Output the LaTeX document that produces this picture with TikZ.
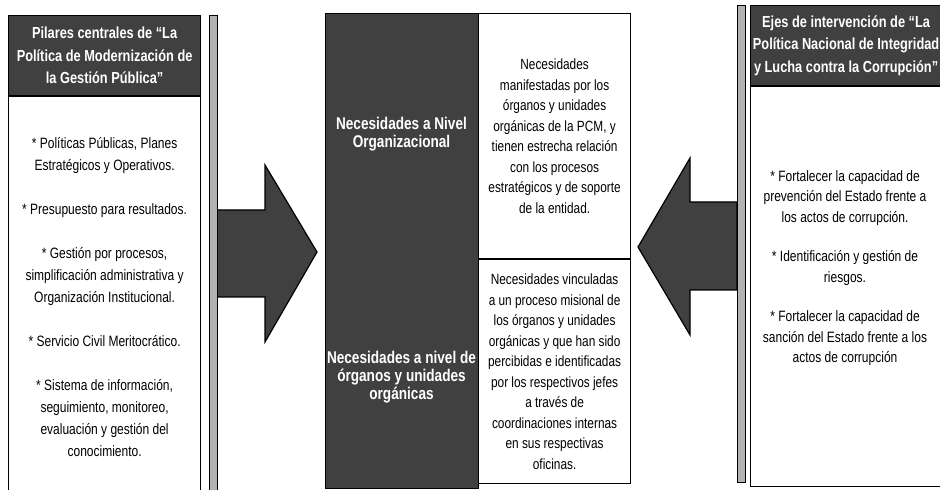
\documentclass[tikz,border=0pt]{standalone}
\usepackage{fontspec}
\setmainfont{Liberation Sans}[FakeStretch=0.8]
\usetikzlibrary{positioning}
\tikzset{%
  darkbox/.style = {rectangle,draw,fill=black!75,text=white,align=center,
        inner sep=0pt,font=\bfseries\fontsize{16}{22.5}\selectfont},
  darktext/.style = {text=white,align=center,inner sep=0pt,
        font=\bfseries\fontsize{17}{18}\selectfont},
  whitebox/.style = {rectangle,draw,fill=white,align=center,inner sep=0pt},
  stripbox/.style = {rectangle,draw,fill=black!30,minimum width=8pt,inner sep=0pt},
  bodytext/.style = {align=center,font=\fontsize{15}{22}\selectfont},
  sidetext/.style = {align=center,font=\fontsize{15}{20.5}\selectfont},
  midtext/.style = {align=center,font=\fontsize{14.8}{20.5}\selectfont},
  blockarrow/.style = {fill=black!75,draw=black}
}

\begin{document}
\begin{tikzpicture}[x=1pt,y=1pt,line width=1.2pt]
\useasboundingbox (0,0) rectangle (940,490);

% left column
\node[darkbox,minimum width=192pt,minimum height=80pt,anchor=north west] (lhead) at (8,475)
  {Pilares centrales de “La\\Política de Modernización de\\la Gestión Pública”};
\node[whitebox,bodytext,minimum width=192pt,minimum height=400pt,below=0pt of lhead] (lbody)
  {* Políticas Públicas, Planes\\Estratégicos y Operativos.\\[22pt]
   * Presupuesto para resultados.\\[22pt]
   * Gestión por procesos,\\simplificación administrativa y\\Organización Institucional.\\[22pt]
   * Servicio Civil Meritocrático.\\[22pt]
   * Sistema de información,\\seguimiento, monitoreo,\\evaluación y gestión del\\conocimiento.};
\filldraw[blockarrow] (217,280) -- (265,280) -- (265,325) -- (317,238)
  -- (265,148) -- (265,193) -- (217,193) -- cycle;
\node[stripbox,minimum height=480pt,anchor=north west] (lstrip) at (209,475) {};

% middle column
\node[darkbox,minimum width=153pt,minimum height=475pt,anchor=north west] (mdark) at (325,477) {};
\node[darktext] (orgnivel) at (401.5,356) {Necesidades a Nivel\\Organizacional};
\node[darktext] (orgunid) at (401.5,113) {Necesidades a nivel de\\órganos y unidades\\orgánicas};
\node[whitebox,midtext,minimum width=152pt,minimum height=245pt,anchor=north west] (mneed) at (478,477)
  {Necesidades\\manifestadas por los\\órganos y unidades\\orgánicas de la PCM, y\\tienen estrecha relación\\con los procesos\\estratégicos y de soporte\\de la entidad.};
\node[whitebox,midtext,minimum width=152pt,minimum height=224pt,below=0pt of mneed] (mlink)
  {Necesidades vinculadas\\a un proceso misional de\\los órganos y unidades\\orgánicas y que han sido\\percibidas e identificadas\\por los respectivos jefes\\a través de\\coordinaciones internas\\en sus respectivas\\oficinas.};

% right column
\filldraw[blockarrow] (737,288) -- (690,288) -- (690,332) -- (638,243)
  -- (690,155) -- (690,200) -- (737,200) -- cycle;
\node[stripbox,minimum height=477pt,anchor=north west] (rstrip) at (737,485) {};
\node[darkbox,minimum width=191pt,minimum height=80pt,anchor=north west] (rhead) at (750,485)
  {Ejes de intervención de “La\\Política Nacional de Integridad\\y Lucha contra la Corrupción”};
\node[whitebox,minimum width=191pt,minimum height=400pt,below=0pt of rhead] (rbody) {};
\node[sidetext] (rlist) at (845,222)
  {* Fortalecer la capacidad de\\prevención del Estado frente a\\los actos de corrupción.\\[19pt]
   * Identificación y gestión de\\riesgos.\\[19pt]
   * Fortalecer la capacidad de\\sanción del Estado frente a los\\actos de corrupción};
\end{tikzpicture}
\end{document}
